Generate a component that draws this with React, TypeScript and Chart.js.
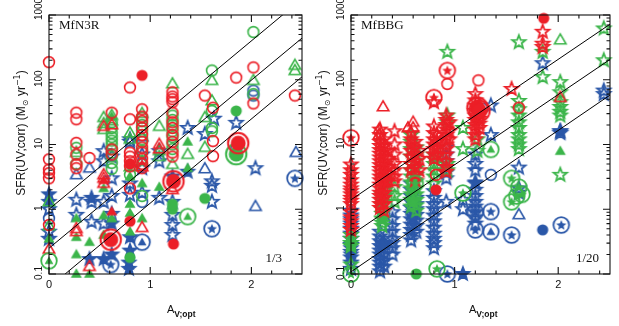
import { useEffect, useRef } from 'react';
import { Chart, registerables } from 'chart.js';

Chart.register(...registerables);

type Pt = [number, number];
const col = (x: number, ys: number[]): Pt[] => ys.map((y) => [x, y] as Pt);

const RED = '#ec1f27';
const GREEN = '#3bb54a';
const BLUE = '#2a57a8';

// Axis ranges and tick values (shared by both panels)
const X_MIN = 0;
const X_MAX = 2.5;
const Y_MIN = 0.1;
const Y_MAX = 1000;
const X_MAJOR = [0, 1, 2];
const X_MINOR = [0.2, 0.4, 0.6, 0.8, 1.2, 1.4, 1.6, 1.8, 2.2, 2.4];
const Y_MAJOR = [0.1, 1, 10, 100, 1000];
const Y_MINOR_MULT = [2, 3, 4, 5, 6, 7, 8, 9];
const X_TICK_LABELS = ['0', '1', '2'];
const Y_TICK_LABELS = ['0.1', '1', '10', '100', '1000'];

// ---------------- MfN3R panel ----------------
const n3rLines: Pt[][] = [
  [[0, 1.0], [2.5, 1780]],
  [[0, 0.25], [2.5, 440]],
  [[0, 0.062], [2.5, 111]],
];

const n3rRedOpenCircle: Pt[] = [
  ...col(0, [187, 5.9, 4.1, 3.6, 3.0, 0.57]),
  ...col(0.27, [31, 24.5, 10.6, 7.0, 4.9, 4.3]),
  ...col(0.4, [6.2]),
  ...col(0.62, [31, 8.4, 7.0]),
  ...col(0.8, [76, 24.5, 7.5, 6.5, 5.5, 4.6, 2.1]),
  ...col(0.92, [35, 27, 23, 18, 14, 11, 9, 7.5, 6, 5, 4.3]),
  ...col(1.22, [64, 55, 50, 45, 31, 22, 18, 14, 11, 7.5, 6.5]),
  ...col(1.54, [57]),
  ...col(1.62, [37, 11.3, 6.6]),
  ...col(1.85, [108]),
  ...col(2.02, [155, 43]),
  ...col(2.43, [57]),
];
const n3rRedOpenTriangle: Pt[] = [
  [0, 0.24], [0.27, 0.5], [0.27, 0.45], [0.4, 0.13], [0.54, 19], [0.54, 3.4], [0.54, 3.0],
  [0.54, 2.5], [0.92, 0.52], [1.09, 10], [1.09, 8.5], [1.22, 2.0], [0.92, 4.5], [0.62, 20],
];
const n3rRedFilledTriangle: Pt[] = [[0.62, 0.92], [0.54, 2.8]];
const n3rRedFilledCircle: Pt[] = [[0.92, 117], [0.8, 0.65], [1.23, 0.29], [0.8, 5.0]];
const n3rRedDouble: Pt[] = [[0.61, 0.34], [1.23, 2.7], [1.87, 10.5]];

const n3rGreenOpenCircle: Pt[] = [
  ...col(0.27, [8.9, 5.0]),
  ...col(0.62, [22, 18, 15, 13, 11.5, 10, 8.5, 6.5, 5.2, 4.2]),
  ...col(0.92, [26, 20, 16, 12, 8, 1.6]),
  ...col(1.22, [28, 24, 20, 16, 13, 10, 8.5]),
  ...col(0.8, [3.4]),
  ...col(1.61, [139, 33, 18, 16]),
  ...col(2.02, [546, 60]),
];
const n3rGreenOpenTriangle: Pt[] = [
  [0, 1.3], [0, 0.55], [0.27, 7.5], [0.54, 26], [0.54, 21], [0.54, 17], [0.62, 28], [0.62, 23],
  [0.8, 15], [0.8, 12], [0.8, 4.5], [0.92, 30], [0.92, 5.5], [1.09, 19], [1.09, 8], [1.09, 6.5],
  [1.22, 86], [1.22, 4.9], [1.37, 7.0], [1.54, 26], [1.54, 9], [1.61, 97], [1.61, 47], [2.02, 97],
  [2.43, 166], [2.43, 138],
];
const n3rGreenFilledTriangle: Pt[] = [
  [0, 0.35], [0.27, 0.72], [0.27, 0.37], [0.27, 0.2], [0.27, 0.1], [0.4, 0.31], [0.4, 0.1],
  [0.54, 2.1], [0.54, 0.8], [0.54, 0.4], [0.62, 0.72], [0.62, 27], [0.8, 3.2], [0.8, 1.2],
  [0.8, 0.87], [0.8, 0.45], [0.92, 0.72], [0.92, 2.5], [1.09, 2.2], [1.37, 11], [1.37, 4.3],
];
const n3rGreenFilledCircle: Pt[] = [[0.8, 0.18], [1.22, 1.0], [1.22, 1.2], [1.54, 1.47], [1.85, 33]];
const n3rGreenDouble: Pt[] = [[1.85, 7.1]];
const n3rGreenCircledTriangle: Pt[] = [[0, 0.16], [1.37, 0.77]];

const n3rBlueOpenStar: Pt[] = [
  [0, 1.0], [0, 0.45], [0, 0.35], [0.27, 0.82], [0.27, 1.4], [0.42, 1.3], [0.42, 0.64],
  [0.54, 7.9], [0.54, 5.5], [0.54, 1.3], [0.54, 0.6], [0.62, 6.5], [0.62, 3.0], [0.62, 1.6],
  [0.62, 0.85], [0.8, 12], [0.8, 11], [0.8, 2.5], [0.8, 1.67], [0.92, 7.0], [0.92, 4.3],
  [0.92, 1.8], [1.09, 7.9], [1.09, 5.5], [1.09, 1.5], [1.22, 1.3], [1.22, 0.82], [1.22, 0.57],
  [1.22, 0.4], [1.37, 18], [1.54, 14.5], [1.63, 25], [1.61, 2.7], [1.61, 2.3], [1.61, 1.3],
  [1.85, 21.6], [2.04, 4.3],
];
const n3rBlueFilledStar: Pt[] = [
  [0, 1.7], [0, 1.3], [0.8, 0.37], [0.8, 0.23], [0.79, 0.15], [0.79, 0.12], [0.54, 0.17],
  [0.4, 0.17], [1.37, 3.8], [1.22, 3.2], [0.62, 0.2], [0.42, 1.5], [0.62, 0.6],
];
const n3rBlueOpenTriangle: Pt[] = [[0.27, 3.4], [0.4, 4.3], [1.54, 4.2], [2.04, 1.1], [2.44, 7.5], [0.92, 13]];
const n3rBlueOpenCircle: Pt[] = [[0, 0.72], [0.92, 1.3], [2.02, 68], [2.02, 57], [1.85, 8.5]];
const n3rBlueCircledStar: Pt[] = [[0.61, 0.14], [1.61, 0.5], [2.43, 3.0]];
const n3rBlueCircledTriangle: Pt[] = [[0.92, 0.31]];

// ---------------- MfBBG panel ----------------
const bbgLines: Pt[][] = [
  [[0, 1.4], [2.5, 720]],
  [[0, 0.4], [2.5, 206]],
  [[0, 0.108], [2.5, 58]],
];

const bbgRedOpenStar: Pt[] = [
  ...col(0, [4.9, 4.0, 3.4, 2.8, 2.4, 2.1, 1.9, 1.7, 1.5, 1.35, 1.2, 0.9, 0.75, 0.65, 0.55, 0.48]),
  ...col(0.28, [17, 14, 11, 9.5, 8.2, 7.2, 6.3, 5.5, 4.8, 4.2, 3.7, 3.2, 2.8, 2.4, 2.1, 1.8, 1.6, 1.4, 1.2, 1.05]),
  ...col(0.32, [12, 9.5, 8, 6.5, 5.5, 4.5, 3.8, 3.2, 2.7, 2.2, 1.8, 1.5, 1.2, 0.95]),
  ...col(0.36, [8, 6, 4.5, 3.5, 2.8]),
  ...col(0.42, [16, 10, 7, 5, 4, 3.2, 2.7]),
  ...col(0.58, [15, 12, 10, 8, 6.5, 5, 4]),
  ...col(0.62, [11, 9, 7, 5.5, 4.5, 3.5, 2.8]),
  ...col(0.66, [8, 6, 4]),
  ...col(0.8, [45, 19, 15, 12, 10, 8.5, 7, 6]),
  ...col(0.83, [14, 11, 9, 7]),
  ...col(0.92, [28, 24, 20, 17, 14, 12, 10, 8.5, 7, 5.5, 4.5, 3.8]),
  ...col(0.95, [22, 16, 12]),
  ...col(1.2, [60, 48, 40, 33, 28, 24, 20, 17, 14, 12]),
  ...col(1.24, [30, 25, 21, 18]),
  ...col(1.55, [72]),
  ...col(1.85, [550, 360, 320]),
];
const bbgRedCircledStar: Pt[] = [[0, 12.7], [0.8, 53], [0.93, 139]];
const bbgRedOpenCircle: Pt[] = [[0.93, 86], [1.23, 98], [0.82, 3.4], [1.62, 37]];
const bbgRedFilledCircle: Pt[] = [[0.82, 2.0], [1.86, 890]];
const bbgRedOpenTriangle: Pt[] = [[0.31, 38], [0.27, 17], [0.27, 14], [0.55, 18], [0.6, 22], [0.6, 18], [2.02, 53], [0.3, 12]];
const bbgRedDouble: Pt[] = [[1.22, 37], [1.24, 33]];

const bbgGreenOpenStar: Pt[] = [
  ...col(0, [0.4, 0.35, 0.3, 0.27, 0.14]),
  ...col(0.3, [1.7, 1.4, 1.2, 1.0, 0.85, 0.72, 0.62, 0.55]),
  ...col(0.33, [3, 2.5, 2, 1.6]),
  ...col(0.42, [2.2, 1.6, 1.3]),
  ...col(0.58, [14, 11, 8.5, 6.5, 5, 4, 3.2, 2.6, 2.1, 1.7, 1.4, 1.1]),
  ...col(0.63, [9, 7, 5.5, 4.3, 3.4, 2.7, 2.1, 1.7, 1.4, 1.15, 0.95]),
  ...col(0.8, [7, 6, 5, 4, 3.2, 2.5]),
  ...col(0.83, [9, 6.5]),
  ...col(0.93, [270, 28, 22, 5, 4]),
  ...col(1.08, [18, 8.5]),
  ...col(1.22, [12, 8]),
  ...col(1.62, [380, 47, 35, 28, 22, 18, 14, 12, 10, 8.5]),
  ...col(1.85, [270, 110]),
  ...col(2.02, [92, 64, 45, 38, 32, 28, 3.4]),
  ...col(2.44, [620, 200]),
];
const bbgGreenFilledStar: Pt[] = [[0, 0.3], [0, 0.27], [0.3, 0.7], [0.6, 1.3]];
const bbgGreenCircledStar: Pt[] = [[0, 0.1], [0.83, 0.12], [1.08, 1.78], [1.55, 3.0], [1.55, 1.3], [1.62, 2.2], [1.65, 1.7], [1.6, 1.6], [0.62, 2.5]];
const bbgGreenFilledCircle: Pt[] = [[0.63, 0.1]];
const bbgGreenCircledTriangle: Pt[] = [[1.35, 8.4]];
const bbgGreenFilledTriangle: Pt[] = [[2.02, 7.9]];
const bbgGreenOpenTriangle: Pt[] = [[2.02, 410]];

const bbgBlueOpenStar: Pt[] = [
  ...col(0, [0.95, 0.8, 0.7, 0.6, 0.5, 0.42, 0.35, 0.28, 0.22, 0.18, 0.15, 0.12]),
  ...col(0.28, [0.45, 0.38, 0.32, 0.27, 0.23, 0.2, 0.17, 0.15, 0.13, 0.11]),
  ...col(0.32, [0.3, 0.25, 0.2, 0.16, 0.13]),
  ...col(0.4, [0.9, 0.7, 0.55, 0.45, 0.35, 0.3, 0.25, 0.2]),
  ...col(0.58, [2.5, 2, 1.6, 1.3, 1.05, 0.85, 0.7, 0.58, 0.48, 0.4, 0.33]),
  ...col(0.63, [1.5, 1.2, 1.0, 0.82, 0.67, 0.55, 0.45]),
  ...col(0.8, [1.9, 1.5, 1.2, 1.0, 0.8, 0.65, 0.52, 0.42, 0.35, 0.3, 0.25]),
  ...col(0.92, [9, 7, 5.5, 4.5, 3.7, 3, 1.3]),
  ...col(1.08, [1.4, 1.0]),
  ...col(1.2, [7, 5, 4, 2.5, 2.0, 1.6, 1.3, 1.1, 0.9, 0.75, 0.6]),
  ...col(1.35, [40, 14]),
  ...col(1.62, [4.4, 2.1, 1.8]),
  ...col(1.85, [180]),
  ...col(2.02, [16, 15]),
  ...col(2.44, [68, 60]),
];
const bbgBlueFilledStar: Pt[] = [[0, 0.25], [0, 0.2], [0.3, 0.3], [0.3, 0.26], [1.08, 0.1], [1.2, 2.6], [0.6, 0.9], [0.6, 0.75], [2.02, 16]];
const bbgBlueCircledStar: Pt[] = [[0.93, 0.1], [1.2, 0.9], [1.2, 0.48], [1.35, 0.92], [1.55, 0.4], [2.03, 0.57]];
const bbgBlueCircledTriangle: Pt[] = [[1.35, 0.45]];
const bbgBlueOpenCircle: Pt[] = [[1.35, 3.4]];
const bbgBlueFilledCircle: Pt[] = [[1.85, 0.48]];
const bbgBlueOpenTriangle: Pt[] = [[1.62, 0.82]];

// ---------------- markers ----------------
type Kind = 'oc' | 'fc' | 'ot' | 'ft' | 'os' | 'fs' | 'cs' | 'ct' | 'dc';
const markerCache = new Map<string, HTMLCanvasElement>();

function starPath(g: CanvasRenderingContext2D, cx: number, cy: number, R: number, r: number) {
  g.beginPath();
  for (let i = 0; i < 10; i++) {
    const a = -Math.PI / 2 + (i * Math.PI) / 5;
    const rad = i % 2 === 0 ? R : r;
    g.lineTo(cx + rad * Math.cos(a), cy + rad * Math.sin(a));
  }
  g.closePath();
}
function triPath(g: CanvasRenderingContext2D, cx: number, cy: number, s: number) {
  const h = (s * Math.sqrt(3)) / 2;
  g.beginPath();
  g.moveTo(cx, cy - (h * 2) / 3);
  g.lineTo(cx + s / 2, cy + h / 3);
  g.lineTo(cx - s / 2, cy + h / 3);
  g.closePath();
}
function circlePath(g: CanvasRenderingContext2D, cx: number, cy: number, r: number) {
  g.beginPath();
  g.arc(cx, cy, r, 0, Math.PI * 2);
}

function marker(kind: Kind, color: string): HTMLCanvasElement {
  const key = kind + color;
  const cached = markerCache.get(key);
  if (cached) return cached;
  const c = document.createElement('canvas');
  c.width = 26;
  c.height = 26;
  const g = c.getContext('2d')!;
  const m = 13;
  g.strokeStyle = color;
  g.fillStyle = color;
  g.lineWidth = 1.6;
  g.lineJoin = 'miter';
  switch (kind) {
    case 'oc':
      circlePath(g, m, m, 5.4);
      g.stroke();
      break;
    case 'fc':
      circlePath(g, m, m, 5.6);
      g.fill();
      break;
    case 'ot':
      triPath(g, m, m + 0.5, 11.5);
      g.stroke();
      break;
    case 'ft':
      triPath(g, m, m + 0.5, 11);
      g.fill();
      break;
    case 'os':
      g.lineWidth = 1.8;
      starPath(g, m, m, 7, 3.0);
      g.stroke();
      break;
    case 'fs':
      starPath(g, m, m, 7, 3.0);
      g.fill();
      g.stroke();
      break;
    case 'cs':
      g.lineWidth = 1.8;
      circlePath(g, m, m, 7.8);
      g.stroke();
      starPath(g, m, m + 0.3, 5.4, 2.4);
      g.fill();
      break;
    case 'ct':
      g.lineWidth = 1.8;
      circlePath(g, m, m, 7.8);
      g.stroke();
      triPath(g, m, m + 0.6, 8.8);
      g.fill();
      break;
    case 'dc':
      g.lineWidth = 2;
      circlePath(g, m, m, 10.2);
      g.stroke();
      circlePath(g, m, m, 7.5);
      g.fill();
      break;
  }
  markerCache.set(key, c);
  return c;
}

type Series = { data: Pt[]; kind: Kind; color: string };

const n3rSeries: Series[] = [
  { data: n3rBlueOpenStar, kind: 'os', color: BLUE },
  { data: n3rBlueFilledStar, kind: 'fs', color: BLUE },
  { data: n3rBlueOpenTriangle, kind: 'ot', color: BLUE },
  { data: n3rBlueOpenCircle, kind: 'oc', color: BLUE },
  { data: n3rGreenOpenCircle, kind: 'oc', color: GREEN },
  { data: n3rGreenOpenTriangle, kind: 'ot', color: GREEN },
  { data: n3rGreenFilledTriangle, kind: 'ft', color: GREEN },
  { data: n3rGreenFilledCircle, kind: 'fc', color: GREEN },
  { data: n3rRedOpenCircle, kind: 'oc', color: RED },
  { data: n3rRedOpenTriangle, kind: 'ot', color: RED },
  { data: n3rRedFilledTriangle, kind: 'ft', color: RED },
  { data: n3rRedFilledCircle, kind: 'fc', color: RED },
  { data: n3rGreenCircledTriangle, kind: 'ct', color: GREEN },
  { data: n3rBlueCircledStar, kind: 'cs', color: BLUE },
  { data: n3rBlueCircledTriangle, kind: 'ct', color: BLUE },
  { data: n3rGreenDouble, kind: 'dc', color: GREEN },
  { data: n3rRedDouble, kind: 'dc', color: RED },
];

const bbgSeries: Series[] = [
  { data: bbgBlueOpenStar, kind: 'os', color: BLUE },
  { data: bbgBlueFilledStar, kind: 'fs', color: BLUE },
  { data: bbgGreenOpenStar, kind: 'os', color: GREEN },
  { data: bbgGreenFilledStar, kind: 'fs', color: GREEN },
  { data: bbgRedOpenStar, kind: 'os', color: RED },
  { data: bbgBlueOpenCircle, kind: 'oc', color: BLUE },
  { data: bbgBlueOpenTriangle, kind: 'ot', color: BLUE },
  { data: bbgBlueFilledCircle, kind: 'fc', color: BLUE },
  { data: bbgGreenFilledCircle, kind: 'fc', color: GREEN },
  { data: bbgGreenFilledTriangle, kind: 'ft', color: GREEN },
  { data: bbgGreenOpenTriangle, kind: 'ot', color: GREEN },
  { data: bbgRedOpenTriangle, kind: 'ot', color: RED },
  { data: bbgRedOpenCircle, kind: 'oc', color: RED },
  { data: bbgRedFilledCircle, kind: 'fc', color: RED },
  { data: bbgBlueCircledStar, kind: 'cs', color: BLUE },
  { data: bbgBlueCircledTriangle, kind: 'ct', color: BLUE },
  { data: bbgGreenCircledStar, kind: 'cs', color: GREEN },
  { data: bbgGreenCircledTriangle, kind: 'ct', color: GREEN },
  { data: bbgRedCircledStar, kind: 'cs', color: RED },
  { data: bbgRedDouble, kind: 'dc', color: RED },
];

type PanelCfg = {
  name: string;
  ratio: string;
  ratioRightGap: number;
  series: Series[];
  lines: Pt[][];
  padding: { left: number; right: number; top: number; bottom: number };
};

const PANELS: PanelCfg[] = [
  { name: 'MfN3R', ratio: '1/3', ratioRightGap: 20, series: n3rSeries, lines: n3rLines, padding: { left: 49, right: 3, top: 15, bottom: 52 } },
  { name: 'MfBBG', ratio: '1/20', ratioRightGap: 11, series: bbgSeries, lines: bbgLines, padding: { left: 41, right: 9, top: 15, bottom: 52 } },
];

const SANS = '"Liberation Sans", Arial, Helvetica, sans-serif';
const SERIF = '"Liberation Serif", "Times New Roman", serif';

function frame(cfg: PanelCfg) {
  return {
    id: 'frame',
    afterDatasetsDraw(chart: any) {
      const { ctx, chartArea: a, scales } = chart;
      const xs = scales.x;
      const ys = scales.y;
      ctx.save();
      ctx.strokeStyle = '#111';
      ctx.lineWidth = 1.1;
      ctx.strokeRect(a.left, a.top, a.right - a.left, a.bottom - a.top);

      ctx.beginPath();
      const xTick = (v: number, len: number) => {
        const p = xs.getPixelForValue(v);
        ctx.moveTo(p, a.bottom);
        ctx.lineTo(p, a.bottom - len);
        ctx.moveTo(p, a.top);
        ctx.lineTo(p, a.top + len);
      };
      const yTick = (v: number, len: number) => {
        const p = ys.getPixelForValue(v);
        ctx.moveTo(a.left, p);
        ctx.lineTo(a.left + len, p);
        ctx.moveTo(a.right, p);
        ctx.lineTo(a.right - len, p);
      };
      X_MAJOR.forEach((v) => xTick(v, 7));
      X_MINOR.forEach((v) => xTick(v, 3.5));
      Y_MAJOR.forEach((v) => yTick(v, 7));
      Y_MAJOR.slice(0, -1).forEach((d) => Y_MINOR_MULT.forEach((m) => yTick(d * m, 3.5)));
      ctx.stroke();

      ctx.fillStyle = '#111';
      // x tick labels
      ctx.font = `11px ${SANS}`;
      ctx.textAlign = 'center';
      ctx.textBaseline = 'alphabetic';
      X_MAJOR.forEach((v, i) => ctx.fillText(X_TICK_LABELS[i], xs.getPixelForValue(v), a.bottom + 14));

      // y tick labels, rotated
      ctx.font = `10px ${SANS}`;
      Y_MAJOR.forEach((v, i) => {
        const p = ys.getPixelForValue(v);
        const c = i === Y_MAJOR.length - 1 ? p - 6 : p - 1;
        ctx.save();
        ctx.translate(a.left - 7, c);
        ctx.rotate(-Math.PI / 2);
        ctx.fillText(Y_TICK_LABELS[i], 0, 0);
        ctx.restore();
      });

      // y title
      ctx.save();
      ctx.translate(a.left - 24, 133);
      ctx.rotate(-Math.PI / 2);
      ctx.textAlign = 'left';
      const big = `12px ${SANS}`;
      const small = `8px "DejaVu Sans", ${SANS}`;
      const parts: { t: string; f: string; dy: number }[] = [
        { t: 'SFR(UV;corr) (M', f: big, dy: 0 },
        { t: '⊙', f: small, dy: 3 },
        { t: ' yr', f: big, dy: 0 },
        { t: '−1', f: small, dy: -5 },
        { t: ')', f: big, dy: 0 },
      ];
      let total = 0;
      parts.forEach((p) => {
        ctx.font = p.f;
        total += ctx.measureText(p.t).width;
      });
      let x = -total / 2;
      parts.forEach((p) => {
        ctx.font = p.f;
        ctx.fillText(p.t, x, p.dy);
        x += ctx.measureText(p.t).width;
      });
      ctx.restore();

      // x title
      ctx.textAlign = 'left';
      ctx.font = `11px ${SANS}`;
      const ax = a.left + 118;
      ctx.fillText('A', ax, 313);
      const aw = ctx.measureText('A').width;
      ctx.font = `bold 8.5px ${SANS}`;
      ctx.fillText('V;opt', ax + aw, 316.5);

      // panel name and ratio
      ctx.font = `13px ${SERIF}`;
      ctx.fillText(cfg.name, a.left + 10, a.top + 14);
      ctx.textAlign = 'right';
      ctx.fillText(cfg.ratio, a.right - cfg.ratioRightGap, 262);
      ctx.restore();
    },
  };
}

function Panel({ cfg, left, width }: { cfg: PanelCfg; left: number; width: number }) {
  const ref = useRef<HTMLCanvasElement>(null);
  useEffect(() => {
    if (!ref.current) return;
    const n = cfg.series.length + cfg.lines.length;
    const lineSets = cfg.lines.map((ends, i) => ({
      data: ends.map(([x, y]) => ({ x, y })),
      showLine: true,
      borderColor: '#000',
      borderWidth: 1,
      pointRadius: 0,
      fill: false,
      order: i + 1,
    }));
    const pointSets = cfg.series.map((s, i) => ({
      data: s.data.map(([x, y]) => ({ x, y })),
      pointStyle: marker(s.kind, s.color),
      pointRadius: 7,
      clip: false as any,
      order: n - i,
    }));
    const chart = new Chart(ref.current, {
      type: 'scatter',
      data: { datasets: [...pointSets, ...lineSets] as any },
      options: {
        animation: false,
        responsive: false,
        events: [],
        layout: { padding: cfg.padding },
        plugins: { legend: { display: false }, tooltip: { enabled: false } },
        scales: {
          x: { type: 'linear', min: X_MIN, max: X_MAX, display: false },
          y: { type: 'logarithmic', min: Y_MIN, max: Y_MAX, display: false },
        },
      },
      plugins: [frame(cfg)],
    });
    return () => chart.destroy();
  }, [cfg]);
  return (
    <canvas
      ref={ref}
      width={width}
      height={326}
      style={{ position: 'absolute', left, top: 0, width, height: 326, display: 'block' }}
    />
  );
}

export default function App() {
  return (
    <div style={{ position: 'fixed', left: 0, top: 0, width: 619, height: 326, background: '#fff', overflow: 'hidden' }}>
      <Panel cfg={PANELS[0]} left={0} width={310} />
      <Panel cfg={PANELS[1]} left={310} width={309} />
    </div>
  );
}
